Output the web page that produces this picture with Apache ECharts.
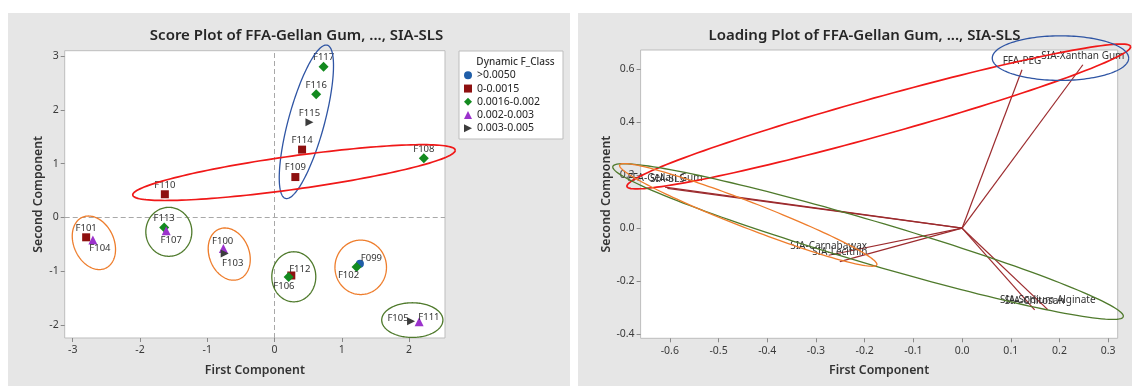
<!DOCTYPE html>
<html>
<head>
<meta charset="utf-8">
<script src="https://cdn.jsdelivr.net/npm/echarts@6/dist/echarts.min.js"></script>
<style>
  html, body { margin: 0; padding: 0; background: #ffffff; }
  #chart { width: 1132px; height: 386px; }
</style>
</head>
<body>
<div id="chart"></div>
<script>
// ---- Score plot data: [first component, second component, observation] ----
const classNames = ['>0.0050', '0-0.0015', '0.0016-0.002', '0.002-0.003', '0.003-0.005'];
const scoreBlue = [[1.27, -0.86, 'F099']];
const scoreRed = [[0.41, 1.26, 'F114'], [0.31, 0.75, 'F109'], [-1.63, 0.43, 'F110'], [-2.80, -0.37, 'F101'], [0.25, -1.08, 'F112']];
const scoreGreen = [[0.73, 2.80, 'F117'], [0.62, 2.29, 'F116'], [2.22, 1.10, 'F108'], [-1.64, -0.19, 'F113'], [0.21, -1.11, 'F106'], [1.22, -0.92, 'F102']];
const scorePurple = [[-2.70, -0.42, 'F104'], [-1.61, -0.25, 'F107'], [-0.76, -0.58, 'F100'], [2.15, -1.94, 'F111']];
const scoreGray = [[0.52, 1.77, 'F115'], [-0.74, -0.67, 'F103'], [2.03, -1.93, 'F105']];

// Score plot axes
const scoreXTicks = [-3, -2, -1, 0, 1, 2];
const scoreYTicks = [-2, -1, 0, 1, 2, 3];
const scoreXRange = [-3.119, 2.535];
const scoreYRange = [-2.242, 3.099];

// Group outlines on the score plot, in data units: [cx, cy, ux, uy, vx, vy]
// (centre plus two conjugate half-axis vectors)
const scoreGroups = [
  [0.474, 1.777, 0.31, 1.425, 0.258, -0.087],
  [0.29, 0.833, 2.397, 0.418, 0.034, -0.307],
  [-2.685, -0.472, 0.175, -0.472, 0.270, 0.158],
  [-1.571, -0.268, 0.0, 0.455, 0.342, 0.0],
  [-0.673, -0.682, 0.149, -0.465, 0.275, 0.139],
  [0.287, -1.104, 0.0, 0.465, 0.327, 0.0],
  [1.282, -0.928, 0.0, 0.506, 0.383, 0.0],
  [2.049, -1.909, 0.455, 0.0, 0.0, 0.322]
];

// ---- Loading plot data ----
const loadNames = ['FFA-Gellan Gum', 'FFA-PEG', 'SIA-SLS', 'SIA-Carnabawax', 'SIA-Lecithin', 'SIA-Chitosan', 'SIA-Sodium Alginate', 'SIA-Xanthan Gum'];
const loadPC1 = [-0.610, 0.123, -0.605, -0.274, -0.251, 0.149, 0.176, 0.248];
const loadPC2 = [0.155, 0.597, 0.150, -0.102, -0.126, -0.308, -0.307, 0.616];

const loadXTicks = [-0.6, -0.5, -0.4, -0.3, -0.2, -0.1, 0.0, 0.1, 0.2, 0.3];
const loadYTicks = [-0.4, -0.2, 0.0, 0.2, 0.4, 0.6];
const loadXRange = [-0.66, 0.3195];
const loadYRange = [-0.415, 0.6716];

// Group outlines on the loading plot, in data units
const loadGroups = [
  [-0.171, 0.421, 0.517, 0.264, 0.0105, -0.069],
  [0.202, 0.641, 0.140, 0.0, 0.0, 0.084],
  [-0.193, -0.0505, 0.524, -0.283, 0.0125, 0.0776],
  [-0.439, 0.050, 0.264, -0.188, 0.0097, 0.0457]
];

// ---- styling ----
const FONT = '"Noto Sans", "Open Sans", sans-serif';
const scoreGroupColors = ['#2f55a4', '#f01818', '#ee7d2c', '#4f7a2c', '#ee7d2c', '#4f7a2c', '#ee7d2c', '#4f7a2c'];
const scoreGroupWidths = [1.3, 1.7, 1.3, 1.3, 1.3, 1.3, 1.3, 1.3];
const loadGroupColors = ['#f01818', '#2f55a4', '#4f7a2c', '#ee7d2c'];
const loadGroupWidths = [1.7, 1.3, 1.3, 1.3];

// label offsets (px) from the marker centre; default sits just above
const labelOffsets = {
  F104: [7, 8.5], F107: [5, 9], F100: [-0.7, -7.5], F103: [8, 10],
  F112: [8.5, -6.5], F106: [-4.7, 8.7], F099: [11.5, -5], F102: [-8, 8.3],
  F105: [-13, -3], F111: [9.8, -4]
};

const rightTri = 'path://M0,0L10,5L0,10Z';
const classStyles = [
  { data: scoreBlue, symbol: 'circle', size: 8, color: '#1f5ea8' },
  { data: scoreRed, symbol: 'rect', size: 8, color: '#8e1010' },
  { data: scoreGreen, symbol: 'diamond', size: 10, color: '#138a1f' },
  { data: scorePurple, symbol: 'triangle', size: 9, color: '#9b32cc' },
  { data: scoreGray, symbol: rightTri, size: 8, color: '#3c3c3c' }
];

function ellipseRenderer(colors, widths) {
  return function (params, api) {
    const cx = api.value(0), cy = api.value(1);
    const ux = api.value(2), uy = api.value(3);
    const vx = api.value(4), vy = api.value(5);
    const pts = [];
    const n = 160;
    for (let k = 0; k <= n; k++) {
      const t = (k / n) * Math.PI * 2;
      const c = Math.cos(t), s = Math.sin(t);
      pts.push(api.coord([cx + ux * c + vx * s, cy + uy * c + vy * s]));
    }
    return {
      type: 'polyline',
      shape: { points: pts },
      style: { stroke: colors[params.dataIndex], lineWidth: widths[params.dataIndex], fill: null }
    };
  };
}

function valueAxis(gridIndex, range, ticks, name, gap, decimals, isY) {
  const fmt = v => decimals ? Number(v).toFixed(decimals) : String(v);
  return {
    type: 'value',
    gridIndex: gridIndex,
    min: range[0],
    max: range[1],
    name: name,
    nameLocation: 'middle',
    nameGap: gap,
    nameTextStyle: { fontFamily: FONT, fontSize: 12.3, fontWeight: 600, color: '#333' },
    axisLine: { show: false, onZero: false },
    splitLine: { show: false },
    axisTick: { show: true, length: 4, customValues: ticks, lineStyle: { color: '#8a8a8a' } },
    axisLabel: { customValues: ticks, formatter: fmt, fontFamily: FONT, fontSize: 10.5, color: '#3a3a3a', margin: isY ? 6 : 7 }
  };
}

const scoreSeries = classStyles.map((c, i) => ({
  name: classNames[i],
  type: 'scatter',
  xAxisIndex: 0,
  yAxisIndex: 0,
  symbol: c.symbol,
  symbolSize: c.size,
  itemStyle: { color: c.color, opacity: 1 },
  z: 3,
  data: c.data.map(d => ({
    value: d,
    label: { offset: labelOffsets[d[2]] || [0, -9.3] }
  })),
  label: {
    show: true,
    position: 'inside',
    align: 'center',
    verticalAlign: 'middle',
    formatter: p => p.value[2],
    fontFamily: FONT,
    fontSize: 9.5,
    color: '#333'
  },
  emphasis: { disabled: true }
}));

// dashed reference lines through the origin of the score plot
scoreSeries[0].markLine = {
  silent: true,
  symbol: 'none',
  label: { show: false },
  lineStyle: { color: '#a8a8a8', type: [5, 3], width: 1 },
  data: [{ xAxis: 0 }, { yAxis: 0 }],
  z: 1
};

const option = {
  animation: false,
  backgroundColor: '#ffffff',
  textStyle: { fontFamily: FONT },
  graphic: [
    { type: 'rect', shape: { x: 8, y: 13, width: 562, height: 373 }, style: { fill: '#e6e6e6' }, z: -10, silent: true },
    { type: 'rect', shape: { x: 578, y: 13, width: 554, height: 373 }, style: { fill: '#e6e6e6' }, z: -10, silent: true },
    { type: 'rect', shape: { x: 459, y: 51, width: 104, height: 88 }, style: { fill: '#ffffff', stroke: '#bdbdbd', lineWidth: 1 }, z: -5, silent: true },
    { type: 'text', x: 515.5, y: 62, style: { text: 'Dynamic F_Class', align: 'center', verticalAlign: 'middle', font: '500 10px ' + FONT, fill: '#333' }, z: 10, silent: true }
  ],
  title: [
    { text: 'Score Plot of FFA-Gellan Gum, ..., SIA-SLS', left: 291.5, top: 23, textAlign: 'center',
      textStyle: { fontFamily: FONT, fontSize: 15, fontWeight: 600, color: '#262626' } },
    { text: 'Loading Plot of FFA-Gellan Gum, ..., SIA-SLS', left: 859.5, top: 23, textAlign: 'center',
      textStyle: { fontFamily: FONT, fontSize: 15, fontWeight: 600, color: '#262626' } }
  ],
  legend: {
    orient: 'vertical',
    left: 464,
    top: 68.8,
    padding: 0,
    itemWidth: 8,
    itemHeight: 8,
    itemGap: 0.25,
    itemTextGap: 7,
    selectedMode: false,
    data: classNames,
    textStyle: { fontFamily: FONT, fontSize: 10.5, color: '#222', lineHeight: 13 }
  },
  grid: [
    { left: 64.7, top: 50.7, width: 380.3, height: 287.3, show: true, backgroundColor: '#ffffff', borderColor: '#bdbdbd', borderWidth: 1 },
    { left: 640.6, top: 50, width: 477.1, height: 288.3, show: true, backgroundColor: '#ffffff', borderColor: '#bdbdbd', borderWidth: 1 }
  ],
  xAxis: [
    valueAxis(0, scoreXRange, scoreXTicks, 'First Component', 26.5, 0, false),
    valueAxis(1, loadXRange, loadXTicks, 'First Component', 26.5, 1, false)
  ],
  yAxis: [
    valueAxis(0, scoreYRange, scoreYTicks, 'Second Component', 20.5, 0, true),
    valueAxis(1, loadYRange, loadYTicks, 'Second Component', 26, 1, true)
  ],
  series: scoreSeries.concat([
    {
      name: 'score groups',
      type: 'custom',
      xAxisIndex: 0,
      yAxisIndex: 0,
      clip: false,
      silent: true,
      z: 5,
      renderItem: ellipseRenderer(scoreGroupColors, scoreGroupWidths),
      encode: { x: 0, y: 1 },
      data: scoreGroups
    },
    {
      name: 'loadings',
      type: 'custom',
      xAxisIndex: 1,
      yAxisIndex: 1,
      clip: false,
      silent: true,
      z: 3,
      renderItem: function (params, api) {
        const p0 = api.coord([0, 0]);
        const p1 = api.coord([api.value(0), api.value(1)]);
        return {
          type: 'group',
          children: [
            { type: 'line', shape: { x1: p0[0], y1: p0[1], x2: p1[0], y2: p1[1] },
              style: { stroke: '#9c2b2e', lineWidth: 1.2 } },
            { type: 'text', x: p1[0], y: p1[1] - 9,
              style: { text: loadNames[params.dataIndex], align: 'center', verticalAlign: 'middle',
                       font: '10px ' + FONT, fill: '#333' } }
          ]
        };
      },
      encode: { x: 0, y: 1 },
      data: loadPC1.map((x, i) => [x, loadPC2[i]])
    },
    {
      name: 'loading groups',
      type: 'custom',
      xAxisIndex: 1,
      yAxisIndex: 1,
      clip: false,
      silent: true,
      z: 5,
      renderItem: ellipseRenderer(loadGroupColors, loadGroupWidths),
      encode: { x: 0, y: 1 },
      data: loadGroups
    }
  ])
};

const chart = echarts.init(document.getElementById('chart'), null, { renderer: 'canvas' });
chart.setOption(option);
</script>
</body>
</html>
